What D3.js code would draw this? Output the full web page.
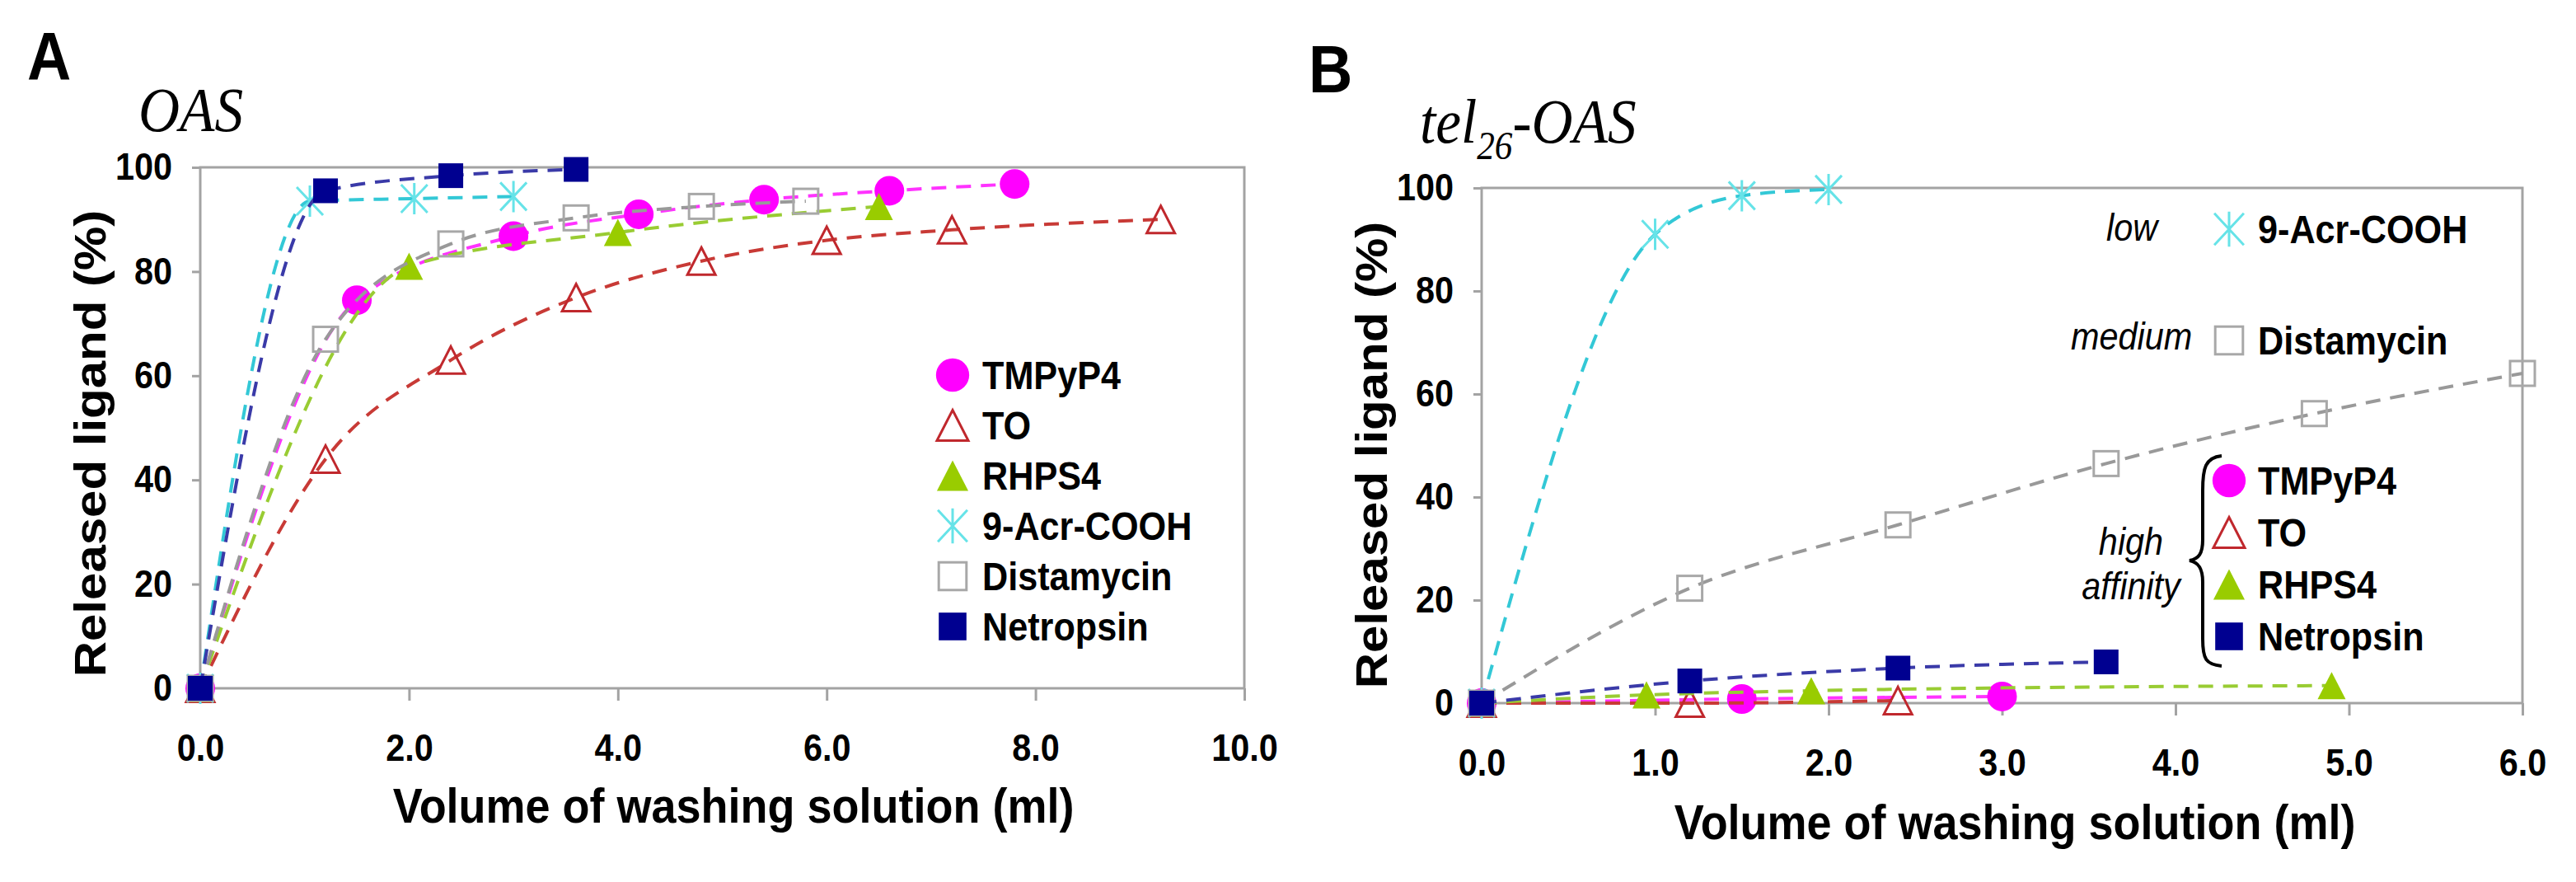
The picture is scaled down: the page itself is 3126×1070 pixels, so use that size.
<!DOCTYPE html>
<html>
<head>
<meta charset="utf-8">
<script src="https://cdn.jsdelivr.net/npm/d3@7"></script>
<style>
  body { margin: 0; background: #fff; }
  svg { display: block; }
</style>
</head>
<body>
<svg></svg>
<script>
// ligands, in the order of the panel A legend
var ligands = ["TMPyP4", "TO", "RHPS4", "9-Acr-COOH", "Distamycin", "Netropsin"];

// tick labels
var yTicks = [0, 20, 40, 60, 80, 100];
var xTicksA = [0, 2, 4, 6, 8, 10];
var xTicksB = [0, 1, 2, 3, 4, 5, 6];

// panel A, OAS : volume of washing solution (ml) / released ligand (%)
var oasTmpypX = [0, 1.5, 3.0, 4.2, 5.4, 6.6, 7.8];
var oasTmpypY = [0, 74.5, 86.8, 91, 93.8, 95.5, 96.8];
var oasToX = [0, 1.2, 2.4, 3.6, 4.8, 6.0, 7.2, 9.2];
var oasToY = [0, 44, 63, 75, 82, 86, 88, 90];
var oasRhpsX = [0, 2.0, 4.0, 6.5];
var oasRhpsY = [0, 81, 87.5, 92.5];
var oasAcrX = [0, 1.05, 2.05, 3.0];
var oasAcrY = [0, 93.5, 94, 94.4];
var oasDistX = [0, 1.2, 2.4, 3.6, 4.8, 5.8];
var oasDistY = [0, 67, 85.3, 90.3, 92.5, 93.5];
var oasNetX = [0, 1.2, 2.4, 3.6];
var oasNetY = [0, 95.5, 98.4, 99.6];

// panel B, tel26-OAS
var telTmpypX = [0, 1.5, 3.0];
var telTmpypY = [0, 0.8, 1.3];
var telToX = [0, 1.2, 2.4];
var telToY = [0, 0, 0.5];
var telRhpsX = [0, 0.95, 1.9, 4.9];
var telRhpsY = [0, 1.6, 2.4, 3.4];
var telAcrX = [0, 1.0, 1.5, 2.0];
var telAcrY = [0, 91, 98.5, 99.7];
var telDistX = [0, 1.2, 2.4, 3.6, 4.8, 6.0];
var telDistY = [0, 22.3, 34.6, 46.5, 56.2, 64];
var telNetX = [0, 1.2, 2.4, 3.6];
var telNetY = [0, 4.3, 6.8, 8.0];

function pts(xs, ys) {
  return xs.map(function(v, i) { return { x: v, y: ys[i] }; });
}

var oasData = [
  pts(oasTmpypX, oasTmpypY), pts(oasToX, oasToY), pts(oasRhpsX, oasRhpsY),
  pts(oasAcrX, oasAcrY), pts(oasDistX, oasDistY), pts(oasNetX, oasNetY)
];
var telData = [
  pts(telTmpypX, telTmpypY), pts(telToX, telToY), pts(telRhpsX, telRhpsY),
  pts(telAcrX, telAcrY), pts(telDistX, telDistY), pts(telNetX, telNetY)
];

var SQ = 0.9;   // the figure text is slightly narrowed
var SANS = "'Liberation Sans', Arial, Helvetica, sans-serif";
var SERIF = "'Liberation Serif', 'Times New Roman', serif";
var AXIS = "#a3a3a3";

// marker and line look per ligand
var looks = {
  "TMPyP4":     { shape: "circle",   fill: "#ff00ff", stroke: "none",    line: "#ff33ff" },
  "TO":         { shape: "triangle", fill: "none",    stroke: "#c0282d", line: "#c83a36" },
  "RHPS4":      { shape: "triangle", fill: "#99cc00", stroke: "none",    line: "#99cc33" },
  "9-Acr-COOH": { shape: "star",     fill: "none",    stroke: "#66e3e8", line: "#33c8d6" },
  "Distamycin": { shape: "square",   fill: "none",    stroke: "#a8a8a8", line: "#999999" },
  "Netropsin":  { shape: "square",   fill: "#000090", stroke: "none",    line: "#3a3aa8" }
};

var svg = d3.select("svg")
  .attr("width", 3126)
  .attr("height", 1070);

svg.append("rect").attr("width", 3126).attr("height", 1070).attr("fill", "#fff");

function marker(g, name, cx, cy, big) {
  var lk = looks[name], k = big ? 1.12 : 1, m;
  if (lk.shape == "circle") {
    m = g.append("circle").attr("cx", cx).attr("cy", cy).attr("r", 18 * k);
  } else if (lk.shape == "square") {
    var s = 30 * k;
    m = g.append("rect").attr("x", cx - s / 2).attr("y", cy - s / 2).attr("width", s).attr("height", s);
  } else if (lk.shape == "triangle") {
    var w = 34 * k, h = 33 * k;
    m = g.append("path").attr("d", `M${cx},${cy - h / 2}L${cx + w / 2},${cy + h / 2}L${cx - w / 2},${cy + h / 2}Z`);
  } else {
    var r = 19 * k, d = 16 * k;
    m = g.append("path").attr("d",
      `M${cx},${cy - r}V${cy + r}M${cx - d},${cy - r + 2}L${cx + d},${cy + r - 2}M${cx + d},${cy - r + 2}L${cx - d},${cy + r - 2}`);
  }
  m.attr("fill", lk.fill).attr("stroke", lk.stroke).attr("stroke-width", 3);
}

function label(g, x, y, s, size, opts) {
  opts = opts || {};
  return g.append("text")
    .attr("transform", `translate(${x},${y}) scale(${SQ},1)`)
    .attr("font-family", opts.serif ? SERIF : SANS)
    .attr("font-size", size)
    .attr("font-weight", opts.normal ? "normal" : "bold")
    .attr("font-style", opts.italic ? "italic" : "normal")
    .attr("text-anchor", opts.anchor || "start")
    .attr("fill", "#000")
    .text(s);
}

function panel(p) {
  var g = svg.append("g");

  var x = d3.scaleLinear().domain([0, p.xMax]).range([p.left, p.right]);
  var y = d3.scaleLinear().domain([0, 100]).range([p.bottom, p.top]);

  // plot frame
  g.append("rect")
    .attr("x", p.left).attr("y", p.top)
    .attr("width", p.right - p.left).attr("height", p.bottom - p.top)
    .attr("fill", "none").attr("stroke", AXIS).attr("stroke-width", 3);

  var xa = g.append("g")
    .attr("transform", `translate(0,${p.bottom})`)
    .call(d3.axisBottom(x).tickValues(p.xTicks).tickFormat(d3.format(".1f"))
      .tickSize(15).tickSizeOuter(0).tickPadding(40));
  xa.select(".domain").remove();
  xa.selectAll("line").attr("stroke", AXIS).attr("stroke-width", 3);
  xa.selectAll("text")
    .attr("fill", "#000").attr("font-family", SANS).attr("font-size", 46)
    .attr("font-weight", "bold").attr("transform", `scale(${SQ},1)`);

  var ya = g.append("g")
    .attr("transform", `translate(${p.left},0)`)
    .call(d3.axisLeft(y).tickValues(yTicks).tickSize(10).tickSizeOuter(0).tickPadding(24));
  ya.select(".domain").remove();
  ya.selectAll("line").attr("stroke", AXIS).attr("stroke-width", 3);
  ya.selectAll("text")
    .attr("fill", "#000").attr("font-family", SANS).attr("font-size", 46)
    .attr("font-weight", "bold").attr("x", -34 / SQ)
    .attr("transform", `scale(${SQ},1)`);

  // axis titles
  label(g, p.xTitle[0], p.xTitle[1], "Volume of washing solution (ml)", 60, { anchor: "middle" });
  g.append("text")
    .attr("transform", `translate(${p.yTitle[0]},${p.yTitle[1]}) rotate(-90) scale(1,${SQ})`)
    .attr("font-family", SANS).attr("font-size", 60).attr("font-weight", "bold")
    .attr("text-anchor", "middle").attr("fill", "#000")
    .text("Released ligand (%)");

  // dashed lines then markers, series by series
  var line = d3.line()
    .x(function(d) { return x(d.x); })
    .y(function(d) { return y(d.y); })
    .curve(d3.curveMonotoneX);

  p.data.forEach(function(series, i) {
    var name = ligands[i];
    g.append("path")
      .datum(series)
      .attr("d", line)
      .attr("fill", "none")
      .attr("stroke", looks[name].line)
      .attr("stroke-width", 4)
      .attr("stroke-dasharray", "18 12");
    series.forEach(function(d) { marker(g, name, x(d.x), y(d.y)); });
  });

  return g;
}

// ---- panel A ----
var gA = panel({
  left: 243, right: 1510, top: 203, bottom: 835,
  xMax: 10, xTicks: xTicksA, data: oasData,
  xTitle: [890, 998], yTitle: [128, 538]
});
label(gA, 33, 96, "A", 82);
label(gA, 168, 159, "OAS", 77, { serif: true, italic: true, normal: true });

ligands.forEach(function(name, i) {
  var cy = 455 + i * 61;
  marker(gA, name, 1156, cy, true);
  label(gA, 1192, cy, name, 48).attr("dy", "0.36em");
});

// ---- panel B ----
var gB = panel({
  left: 1798, right: 3061, top: 228, bottom: 853,
  xMax: 6, xTicks: xTicksB, data: telData,
  xTitle: [2445, 1018], yTitle: [1683, 552]
});
label(gB, 1588, 112, "B", 82);
var tB = gB.append("text")
  .attr("transform", `translate(1723,173) scale(${SQ},1)`)
  .attr("font-family", SERIF).attr("font-style", "italic").attr("font-size", 77).attr("fill", "#000");
tB.append("tspan").text("tel");
tB.append("tspan").attr("font-size", 48).attr("dy", 20).text("26");
tB.append("tspan").attr("dy", -20).text("-OAS");

var legendB = [
  { name: "9-Acr-COOH", cy: 278 },
  { name: "Distamycin", cy: 413 },
  { name: "TMPyP4", cy: 583 },
  { name: "TO", cy: 646 },
  { name: "RHPS4", cy: 709 },
  { name: "Netropsin", cy: 772 }
];
legendB.forEach(function(d) {
  marker(gB, d.name, 2705, d.cy, true);
  label(gB, 2740, d.cy, d.name, 48).attr("dy", "0.36em");
});
label(gB, 2556, 292, "low", 46, { italic: true, normal: true });
label(gB, 2513, 424, "medium", 46, { italic: true, normal: true });
label(gB, 2586, 673, "high", 46, { italic: true, normal: true, anchor: "middle" });
label(gB, 2586, 727, "affinity", 46, { italic: true, normal: true, anchor: "middle" });

// curly brace grouping the high affinity ligands
gB.append("path")
  .attr("d", "M2696,553 C2676,555 2673,568 2673,595 L2673,655 C2673,672 2668,678 2657,680 " +
             "C2668,682 2673,690 2673,706 L2673,775 C2673,800 2677,806 2696,808")
  .attr("fill", "none").attr("stroke", "#000").attr("stroke-width", 4);
</script>
</body>
</html>
